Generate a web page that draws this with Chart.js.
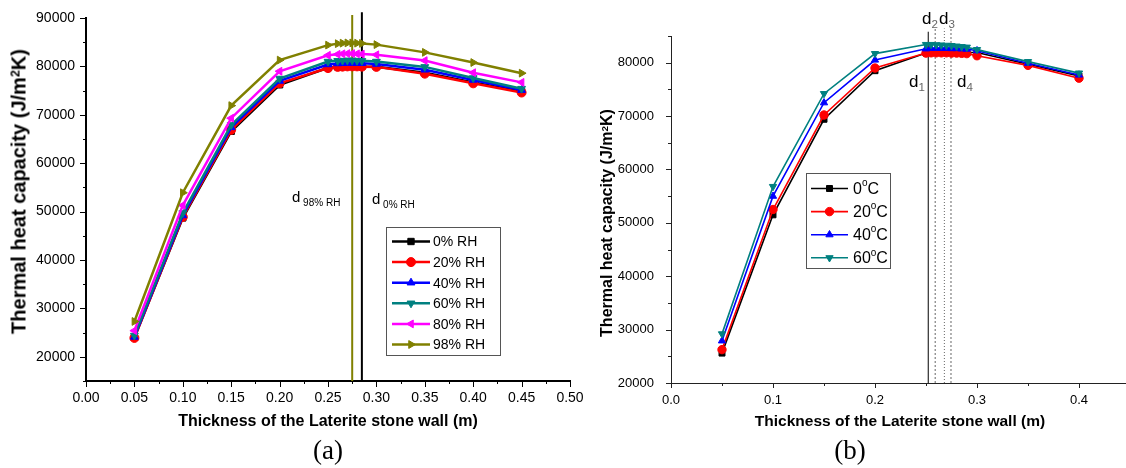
<!DOCTYPE html>
<html><head><meta charset="utf-8">
<script src="https://cdn.jsdelivr.net/npm/chart.js@4.4.0/dist/chart.umd.min.js"></script>
<style>
html,body{margin:0;padding:0;background:#fff;}
#wrap{position:relative;width:1126px;height:468px;overflow:hidden;background:#fff;font-family:"Liberation Sans",Arial,sans-serif;}
canvas{position:absolute;top:0;}
.t{position:absolute;white-space:nowrap;color:#000;line-height:20px;}
.yt{font-weight:bold;text-align:center;transform:rotate(-90deg);transform-origin:50% 50%;}
.xt{font-weight:bold;text-align:center;}
.cap{font-family:"Liberation Serif","Times New Roman",serif;font-size:27px;text-align:center;line-height:30px;}
.sup{font-size:0.62em;position:relative;top:-0.45em;}
.sub{font-size:0.68em;position:relative;top:0.35em;}
</style></head><body>
<div id="wrap">
<canvas id="c1" width="600" height="468" style="left:0"></canvas>
<canvas id="c2" width="560" height="468" style="left:580px"></canvas>

<div class="t yt" style="left:-180px;top:179px;width:400px;font-size:20px;line-height:22px;">Thermal heat capacity (J/m<span class="sup">2</span>K)</div>
<div class="t yt" style="left:408px;top:212px;width:400px;font-size:16px;">Thermal heat capacity (J/m<span class="sup">2</span>K)</div>
<div class="t xt" style="left:78px;top:411px;width:500px;font-size:16px;">Thickness of the Laterite stone wall (m)</div>
<div class="t xt" style="left:650px;top:411px;width:500px;font-size:15.5px;">Thickness of the Laterite stone wall (m)</div>
<div class="t cap" style="left:278px;top:435px;width:100px;">(a)</div>
<div class="t cap" style="left:800px;top:435px;width:100px;">(b)</div>

<div class="t" style="left:292px;top:187px;font-size:15px;">d<span class="sub" style="font-size:10px;"> 98% RH</span></div>
<div class="t" style="left:372px;top:189px;font-size:15px;">d<span class="sub" style="font-size:10px;"> 0% RH</span></div>

<div class="t" style="left:909px;top:72px;font-size:17px;">d<span class="sub" style="color:#666;">1</span></div>
<div class="t" style="left:957px;top:72px;font-size:17px;">d<span class="sub" style="color:#666;">4</span></div>
<div class="t" style="left:922px;top:9px;font-size:17px;">d<span class="sub" style="color:#666;">2</span></div>
<div class="t" style="left:939px;top:9px;font-size:17px;">d<span class="sub" style="color:#666;">3</span></div>
</div>
<script>
// ---------- data: chart (a) ----------
const xL = [0.05,0.10,0.15,0.20,0.25,0.26,0.265,0.27,0.275,0.28,0.285,0.30,0.35,0.40,0.45];
const rh0  = [24000,48700,66600,76200,79700,79900,80000,80050,80050,80050,80000,79950,78700,76700,74800];
const rh20 = [23900,48900,66900,76500,79650,79900,79950,80000,80000,80000,79950,79900,78500,76500,74600];
const rh40 = [24100,49200,67400,77000,80400,80600,80650,80700,80700,80700,80650,80500,79300,77200,75100];
const rh60 = [24400,49700,67900,77500,81000,81150,81200,81250,81250,81200,81150,81000,79900,77600,75400];
const rh80 = [25400,51300,69300,79000,82300,82500,82600,82650,82650,82600,82550,82400,81200,78700,76700];
const rh98 = [27300,53900,71900,81300,84400,84700,84800,84850,84850,84800,84750,84500,82900,80800,78600];
const labelsL = ['0% RH','20% RH','40% RH','60% RH','80% RH','98% RH'];
const optLinesL = [0.275, 0.285];          // d 98% RH, d 0% RH
const optLineTopsL = [90600, 91200];

// ---------- data: chart (b) ----------
const xR = [0.05,0.10,0.15,0.20,0.25,0.255,0.26,0.265,0.27,0.275,0.28,0.285,0.29,0.30,0.35,0.40];
const t0  = [25600,51500,69400,78500,81800,81850,81900,81900,81900,81900,81900,81900,81900,81900,79700,77500];
const t20 = [26250,52500,70200,79000,81800,81850,81850,81850,81850,81800,81800,81750,81700,81300,79500,77100];
const t40 = [27900,55000,72500,80500,82600,82700,82700,82700,82700,82650,82650,82600,82550,82250,79900,77700];
const t60 = [29200,56800,74200,81700,83400,83400,83350,83300,83250,83200,83100,83000,82900,82450,80200,78050];
const labelsR = ['0°C','20°C','40°C','60°C'];
const optLinesR = [0.2522, 0.259, 0.268, 0.2745];   // d1..d4
const optLineTopsR = [85800, 86400, 86400, 86400];

// ---------- styles ----------
const colL = ['#000000','#ff0000','#0000ff','#008080','#ff00ff','#808000'];
const shpL = ['rect','circle','triangle','triangle','triangle','triangle'];
const rotL = [0,0,0,180,270,90];
const colR = ['#000000','#ff0000','#0000ff','#008080'];
const shpR = ['rect','circle','triangle','triangle'];
const rotR = [0,0,0,180];

function pts(xs, ys){ return xs.map((x,i)=>({x:x, y:ys[i]})); }
function series(xs, list, labels, cols, shp, rot, lw, r){
  const n = list.length;
  return list.map((ys,i)=>({
    label: labels[i], data: pts(xs, ys), showLine: true,
    borderColor: cols[i], backgroundColor: cols[i], pointBackgroundColor: cols[i],
    pointBorderColor: cols[i], borderWidth: lw, pointRadius: r, pointBorderWidth: 1,
    pointStyle: shp[i], pointRotation: rot[i], order: n - i, tension: 0
  }));
}
function vlines(xs, tops, ymin, cols, widths, dashes){
  return xs.map((x,i)=>({
    label: 'v'+i, data: [{x:x,y:ymin},{x:x,y:tops[i]}], showLine: true,
    borderColor: cols[i], borderWidth: widths[i], borderDash: dashes[i],
    pointRadius: 0, clip: false, order: 100
  }));
}
function near(v, step){ const r = v/step; return Math.abs(r-Math.round(r)) < 1e-6; }
function tickValues(min, max, step){
  const out = []; const n = Math.floor((max-min)/step + 1e-9);
  for (let i=0;i<=n;i++) out.push({value: +(min + i*step).toFixed(6)});
  return out;
}

const tickPlugin = {
  id: 'ticks2',
  afterDraw(chart, a, o){
    const ctx = chart.ctx; ctx.save();
    ctx.strokeStyle = o.color; ctx.lineWidth = o.width;
    ['x','y'].forEach(id=>{
      const s = chart.scales[id];
      s.ticks.forEach(t=>{
        const v = t.value;
        const L = near(v, o[id+'Major']) ? o.majorLen : o.minorLen;
        const p = Math.round(s.getPixelForValue(v)) + 0.5;
        ctx.beginPath();
        if (id==='x'){ ctx.moveTo(p, s.top); ctx.lineTo(p, s.top+L); }
        else { ctx.moveTo(s.right, p); ctx.lineTo(s.right-L, p); }
        ctx.stroke();
      });
    });
    ctx.restore();
  }
};

const legendPlugin = {
  id: 'boxLegend',
  afterDatasetsDraw(chart, a, o){
    const ctx = chart.ctx; ctx.save();
    ctx.fillStyle = '#fff'; ctx.fillRect(o.x, o.y, o.w, o.h);
    ctx.strokeStyle = o.border; ctx.lineWidth = 1;
    ctx.strokeRect(o.x+0.5, o.y+0.5, o.w, o.h);
    ctx.textBaseline = 'middle';
    o.items.forEach((idx, i)=>{
      const ds = chart.data.datasets[idx];
      const y = o.y + o.first + i*o.step;
      ctx.strokeStyle = ds.borderColor; ctx.lineWidth = ds.borderWidth;
      ctx.beginPath(); ctx.moveTo(o.x+o.l0, y); ctx.lineTo(o.x+o.l1, y); ctx.stroke();
      ctx.fillStyle = ds.pointBackgroundColor; ctx.strokeStyle = ds.borderColor; ctx.lineWidth = 1;
      Chart.helpers.drawPoint(ctx, {pointStyle: ds.pointStyle, rotation: ds.pointRotation,
        radius: ds.pointRadius, borderWidth: 1}, o.x+(o.l0+o.l1)/2, y);
      ctx.fillStyle = '#000';
      let tx = o.x + o.tx;
      const parts = ds.label.split('°');
      ctx.font = o.font + 'px "Liberation Sans", Arial, sans-serif';
      ctx.fillText(parts[0], tx, y+1); tx += ctx.measureText(parts[0]).width;
      if (parts.length > 1){
        ctx.font = Math.round(o.font*0.6) + 'px "Liberation Sans", Arial, sans-serif';
        ctx.fillText('o', tx, y-5); tx += ctx.measureText('o').width;
        ctx.font = o.font + 'px "Liberation Sans", Arial, sans-serif';
        ctx.fillText(parts[1], tx, y+1);
      }
    });
    ctx.restore();
  }
};

function makeScales(c){
  return {
    x: { type:'linear', min:c.xmin, max:c.xmax,
      afterBuildTicks(s){ s.ticks = tickValues(c.xmin, c.xmax, c.xstep); },
      afterFit(s){ s.height = c.xh; s.paddingLeft = 0; s.paddingRight = 0; s.paddingTop = 0; s.paddingBottom = 0; },
      grid:{ display:true, drawOnChartArea:false, drawTicks:false },
      border:{ display:true, color:c.bc, width:c.bw },
      ticks:{ autoSkip:false, maxRotation:0, minRotation:0, padding:c.xpad, color:'#000',
        font:{ family:'"Liberation Sans", Arial, sans-serif', size:c.fs },
        callback(v){ return near(v,c.xmaj) ? Number(v).toFixed(c.xdec) : ''; } } },
    y: { type:'linear', min:c.ymin, max:c.ymax,
      afterBuildTicks(s){ s.ticks = tickValues(c.ymin, c.ymax, c.ystep); },
      afterFit(s){ s.width = c.yw; s.paddingLeft = 0; s.paddingRight = 0; s.paddingTop = 0; s.paddingBottom = 0; },
      grid:{ display:true, drawOnChartArea:false, drawTicks:false },
      border:{ display:true, color:c.bc, width:c.bw },
      ticks:{ autoSkip:false, padding:c.ypad, color:'#000',
        font:{ family:'"Liberation Sans", Arial, sans-serif', size:c.fs },
        callback(v){ return near(v,c.ymaj) ? String(Math.round(v)) : ''; } } }
  };
}

const common = { responsive:false, animation:false, events:[],
  plugins:{ legend:{display:false}, tooltip:{enabled:false} } };

new Chart(document.getElementById('c1'), {
  type:'line',
  data:{ datasets: series(xL, [rh0,rh20,rh40,rh60,rh80,rh98], labelsL, colL, shpL, rotL, 2.5, 4.5)
    .concat(vlines(optLinesL, optLineTopsL, 15000, ['#808000','#000000'], [2,2], [[],[]])) },
  options: Object.assign({}, common, {
    layout:{ padding:{ left:0, top:18, right:30, bottom:0 } },
    scales: makeScales({xmin:0,xmax:0.5,xstep:0.025,xmaj:0.05,xdec:2, ymin:15000,ymax:90000,ystep:5000,ymaj:10000,
      yw:86, xh:87, bw:2, bc:'#000', ypad:11, xpad:9, fs:14}),
    plugins: Object.assign({}, common.plugins, {
      ticks2:{ color:'#000', width:1, majorLen:6, minorLen:3, xMajor:0.05, yMajor:10000 },
      boxLegend:{ x:386, y:227, w:114, h:128, first:14.5, step:20.6, l0:6, l1:44, tx:47, font:14, border:'#555', items:[0,1,2,3,4,5] }
    })
  }),
  plugins:[tickPlugin, legendPlugin]
});

new Chart(document.getElementById('c2'), {
  type:'line',
  data:{ datasets: series(xR, [t0,t20,t40,t60], labelsR, colR, shpR, rotR, 1.6, 4.2)
    .concat(vlines(optLinesR, optLineTopsR, 20000, ['#000','#666','#666','#666'], [1,1,1,1], [[],[2,2],[1,2],[2,2]])) },
  options: Object.assign({}, common, {
    layout:{ padding:{ left:0, top:36, right:10, bottom:0 } },
    scales: makeScales({xmin:0,xmax:0.45,xstep:0.05,xmaj:0.1,xdec:1, ymin:20000,ymax:85000,ystep:5000,ymaj:10000,
      yw:91, xh:85, bw:1, bc:'#222', ypad:17, xpad:10, fs:13}),
    plugins: Object.assign({}, common.plugins, {
      ticks2:{ color:'#222', width:1, majorLen:5, minorLen:3, xMajor:0.1, yMajor:10000 },
      boxLegend:{ x:226, y:173, w:84, h:95, first:15.5, step:23.1, l0:5, l1:42, tx:47, font:16, border:'#555', items:[0,1,2,3] }
    })
  }),
  plugins:[tickPlugin, legendPlugin]
});
</script>
</body></html>
